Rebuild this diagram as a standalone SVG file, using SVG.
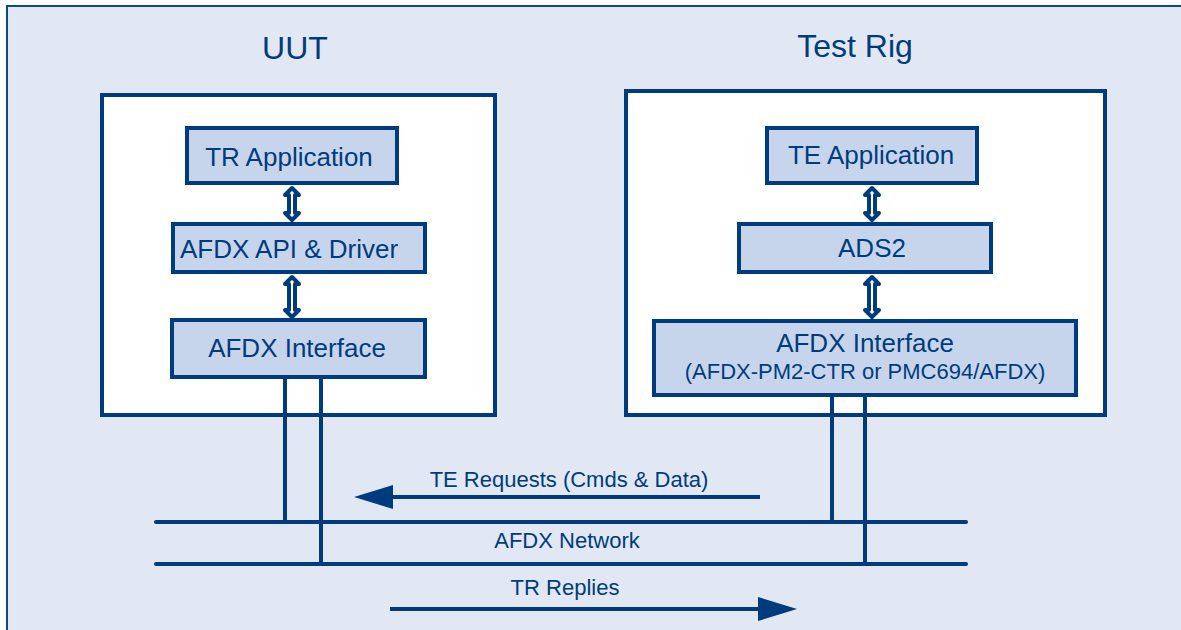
<svg xmlns="http://www.w3.org/2000/svg" width="1181" height="630" viewBox="0 0 1181 630">
<style>
.frame{fill:#e1e8f4;stroke:#0b4a86;stroke-width:2}
.sys{fill:#ffffff;stroke:#003c7d;stroke-width:4}
.box{fill:#c7d5ec;stroke:#003c7d;stroke-width:4}
text{font-family:"Liberation Sans",Arial,sans-serif;fill:#003c7d;text-anchor:middle}
.title{font-size:32px}
.lbl{font-size:26px}
.sm{font-size:22px}
.wire{stroke:#003c7d;stroke-width:4;fill:none}
.net{stroke:#003c7d;stroke-width:4;fill:none;stroke-linecap:round}
.dbl{fill:#ffffff;stroke:#003c7d;stroke-width:4;stroke-linejoin:round}
.head{fill:#003c7d}
</style>
<defs>
<polygon id="dblS" class="dbl" points="0,1 7,8 3,8 3,26 7,26 0,33 -7,26 -3,26 -3,8 -7,8"/>
<polygon id="dblL" class="dbl" points="0,1 7,8 3,8 3,34 7,34 0,41 -7,34 -3,34 -3,8 -7,8"/>
</defs>
<rect class="frame" x="7" y="6" width="1190" height="640"/>
<g id="uut">
<text class="title" x="295" y="59">UUT</text>
<rect class="sys" x="102" y="95" width="393" height="320"/>
</g>
<g id="testrig">
<text class="title" x="855" y="57">Test Rig</text>
<rect class="sys" x="626" y="91" width="479" height="324"/>
</g>
<g id="tr-application">
<rect class="box" x="187" y="128" width="210" height="55"/>
<text class="lbl" x="289" y="166">TR Application</text>
</g>
<g id="afdx-api-driver">
<rect class="box" x="173" y="224" width="252" height="48"/>
<text class="lbl" x="289" y="258">AFDX API &amp; Driver</text>
</g>
<g id="uut-afdx-interface">
<rect class="box" x="172" y="320" width="253" height="57"/>
<text class="lbl" x="297" y="357">AFDX Interface</text>
</g>
<g id="te-application">
<rect class="box" x="767" y="128" width="210" height="55"/>
<text class="lbl" x="871" y="164">TE Application</text>
</g>
<g id="ads2">
<rect class="box" x="739" y="224" width="252" height="48"/>
<text class="lbl" x="872" y="257">ADS2</text>
</g>
<g id="tr-afdx-interface">
<rect class="box" x="654" y="321" width="422" height="74"/>
<text class="lbl" x="865" y="352">AFDX Interface</text>
<text class="sm" x="865" y="379">(AFDX-PM2-CTR or PMC694/AFDX)</text>
</g>
<g id="network">
<line class="net" x1="156" y1="522" x2="966" y2="522"/>
<line class="net" x1="156" y1="564" x2="966" y2="564"/>
<text class="sm" x="567" y="548">AFDX Network</text>
</g>
<g id="connectors">
<use href="#dblS" x="292" y="187"/>
<use href="#dblL" x="292" y="276"/>
<use href="#dblS" x="872" y="187"/>
<use href="#dblL" x="872" y="276"/>
<line class="wire" x1="285" y1="377" x2="285" y2="522"/>
<line class="wire" x1="321" y1="377" x2="321" y2="564"/>
<line class="wire" x1="832" y1="395" x2="832" y2="522"/>
<line class="wire" x1="865" y1="395" x2="865" y2="564"/>
<line class="wire" x1="760" y1="497" x2="390" y2="497"/>
<polygon class="head" points="354,497 393,485 393,509"/>
<text class="sm" x="569" y="487">TE Requests (Cmds &amp; Data)</text>
<line class="wire" x1="390" y1="609" x2="762" y2="609"/>
<polygon class="head" points="797,609 758,597 758,621"/>
<text class="sm" x="565" y="595">TR Replies</text>
</g>
</svg>
